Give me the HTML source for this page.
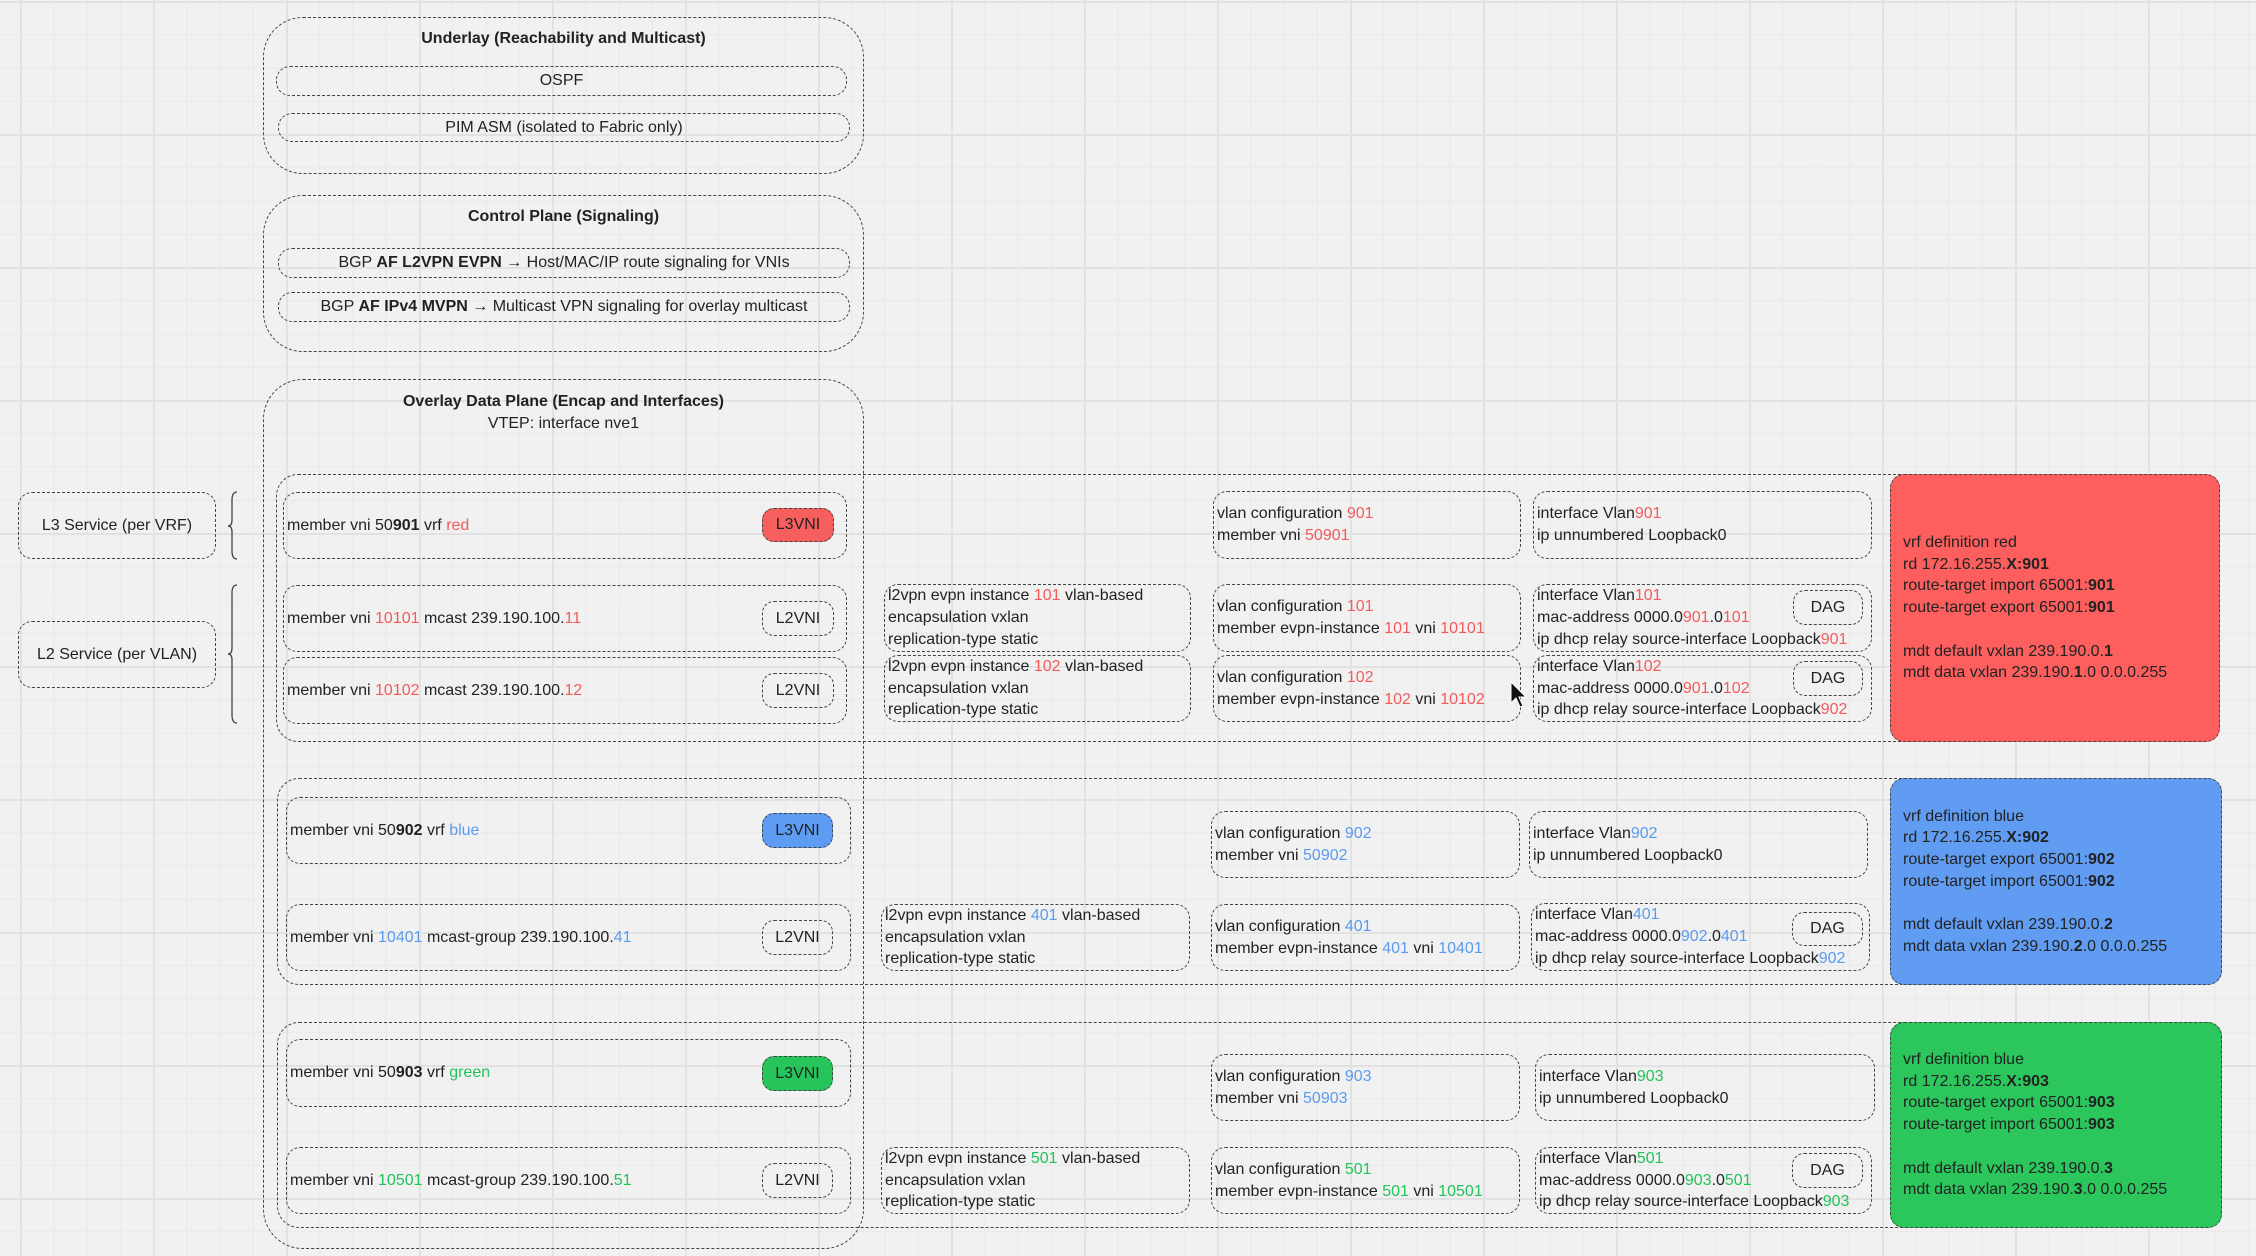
<!DOCTYPE html>
<html><head><meta charset="utf-8"><style>
html,body{margin:0;padding:0}
body{width:2256px;height:1256px;position:relative;overflow:hidden;background-color:#f1f1f1;
background-image:linear-gradient(#e2e2e2 2px,transparent 2px),linear-gradient(90deg,#e2e2e2 2px,transparent 2px),linear-gradient(#e9e9e9 1px,transparent 1px),linear-gradient(90deg,#e9e9e9 1px,transparent 1px);
background-size:133px 133px,133px 133px,33.25px 33.25px,33.25px 33.25px;background-position:0 1px,20px 0,0 1px,20px 0;
font-family:"Liberation Sans",sans-serif;font-size:16px;color:#222}
.b{position:absolute;border:1.3px dashed #444;border-radius:14px;box-sizing:border-box;display:flex;flex-direction:column;justify-content:center;line-height:21.7px;white-space:nowrap;padding-left:3px}
.c{align-items:center;padding-left:0}
.p{position:absolute;border:1.3px dashed #444;border-radius:12px;box-sizing:border-box;display:flex;align-items:center;justify-content:center}
.t{position:absolute;white-space:nowrap;text-align:center}
.r{color:#f45b5b}.u{color:#5a9bf0}.g{color:#22c35a}
b{font-weight:bold}
.grp{position:absolute;border:1.3px dashed #444;border-radius:22px;box-sizing:border-box}
</style></head><body>

<!-- Underlay -->
<div class="grp" style="left:263px;top:17px;width:601px;height:157px;border-radius:40px"></div>
<div class="t" style="left:263px;width:601px;top:30px"><b>Underlay (Reachability and Multicast)</b></div>
<div class="b c" style="left:276px;top:66px;width:571px;height:30px">OSPF</div>
<div class="b c" style="left:278px;top:113px;width:572px;height:29px">PIM ASM (isolated to Fabric only)</div>

<!-- Control -->
<div class="grp" style="left:263px;top:195px;width:601px;height:157px;border-radius:40px"></div>
<div class="t" style="left:263px;width:601px;top:208px"><b>Control Plane (Signaling)</b></div>
<div class="b c" style="left:278px;top:248px;width:572px;height:30px"><span>BGP <b>AF L2VPN EVPN</b> → Host/MAC/IP route signaling for VNIs</span></div>
<div class="b c" style="left:278px;top:292px;width:572px;height:30px"><span>BGP <b>AF IPv4 MVPN</b> → Multicast VPN signaling for overlay multicast</span></div>

<!-- Overlay -->
<div class="grp" style="left:263px;top:379px;width:601px;height:870px;border-radius:40px"></div>
<div class="t" style="left:263px;width:601px;top:393px"><b>Overlay Data Plane (Encap and Interfaces)</b></div>
<div class="t" style="left:263px;width:601px;top:415px">VTEP: interface nve1</div>

<!-- services -->
<div class="b c" style="left:18px;top:492px;width:198px;height:67px">L3 Service (per VRF)</div>
<div class="b c" style="left:18px;top:621px;width:198px;height:67px">L2 Service (per VLAN)</div>
<svg style="position:absolute;left:0;top:0" width="300" height="800">
<path d="M237 492 Q232 492 232 500 L232 520 Q232 526 228 526 Q232 526 232 532 L232 551 Q232 559 237 559" fill="none" stroke="#444" stroke-width="1.3"/>
<path d="M237 585 Q232 585 232 593 L232 648 Q232 654 228 654 Q232 654 232 660 L232 715 Q232 723 237 723" fill="none" stroke="#444" stroke-width="1.3"/>
</svg>

<!-- Group 1 red -->
<div class="grp" style="left:276px;top:474px;width:1944px;height:268px"></div>
<div class="b" style="left:283px;top:492px;width:564px;height:67px"><span>member vni 50<b>901</b> vrf <span class="r">red</span></span></div>
<div class="p" style="left:762px;top:508px;width:72px;height:34px;background:#f75e5e">L3VNI</div>
<div class="b" style="left:283px;top:585px;width:564px;height:67px"><span>member vni <span class="r">10101</span> mcast 239.190.100.<span class="r">11</span></span></div>
<div class="p" style="left:762px;top:601px;width:72px;height:35px">L2VNI</div>
<div class="b" style="left:283px;top:657px;width:564px;height:67px"><span>member vni <span class="r">10102</span> mcast 239.190.100.<span class="r">12</span></span></div>
<div class="p" style="left:762px;top:673px;width:72px;height:35px">L2VNI</div>

<div class="b" style="left:884px;top:584px;width:307px;height:68px"><div>l2vpn evpn instance <span class="r">101</span> vlan-based</div><div>encapsulation vxlan</div><div>replication-type static</div></div>
<div class="b" style="left:884px;top:655px;width:307px;height:67px"><div>l2vpn evpn instance <span class="r">102</span> vlan-based</div><div>encapsulation vxlan</div><div>replication-type static</div></div>

<div class="b" style="left:1213px;top:491px;width:308px;height:68px"><div>vlan configuration <span class="r">901</span></div><div>member vni <span class="r">50901</span></div></div>
<div class="b" style="left:1213px;top:584px;width:308px;height:68px"><div>vlan configuration <span class="r">101</span></div><div>member evpn-instance <span class="r">101</span> vni <span class="r">10101</span></div></div>
<div class="b" style="left:1213px;top:655px;width:308px;height:67px"><div>vlan configuration <span class="r">102</span></div><div>member evpn-instance <span class="r">102</span> vni <span class="r">10102</span></div></div>

<div class="b" style="left:1533px;top:491px;width:339px;height:68px"><div>interface Vlan<span class="r">901</span></div><div>ip unnumbered Loopback0</div></div>
<div class="b" style="left:1533px;top:584px;width:339px;height:68px"><div>interface Vlan<span class="r">101</span></div><div>mac-address 0000.0<span class="r">901</span>.0<span class="r">101</span></div><div>ip dhcp relay source-interface Loopback<span class="r">901</span></div></div>
<div class="p" style="left:1793px;top:590px;width:70px;height:35px">DAG</div>
<div class="b" style="left:1533px;top:655px;width:339px;height:67px"><div>interface Vlan<span class="r">102</span></div><div>mac-address 0000.0<span class="r">901</span>.0<span class="r">102</span></div><div>ip dhcp relay source-interface Loopback<span class="r">902</span></div></div>
<div class="p" style="left:1793px;top:661px;width:70px;height:35px">DAG</div>

<div class="b" style="left:1890px;top:474px;width:330px;height:268px;background:#fd5f5f;padding-left:12px"><div>vrf definition red</div><div>rd 172.16.255.<b>X:901</b></div><div>route-target import 65001:<b>901</b></div><div>route-target export 65001:<b>901</b></div><div>&nbsp;</div><div>mdt default vxlan 239.190.0.<b>1</b></div><div>mdt data vxlan 239.190.<b>1</b>.0 0.0.0.255</div></div>

<!-- Group 2 blue -->
<div class="grp" style="left:277px;top:778px;width:1945px;height:207px"></div>
<div class="b" style="left:286px;top:797px;width:565px;height:67px"><span>member vni 50<b>902</b> vrf <span class="u">blue</span></span></div>
<div class="p" style="left:762px;top:813px;width:71px;height:35px;background:#5d9cf2">L3VNI</div>
<div class="b" style="left:286px;top:904px;width:565px;height:67px"><span>member vni <span class="u">10401</span> mcast-group 239.190.100.<span class="u">41</span></span></div>
<div class="p" style="left:762px;top:920px;width:71px;height:35px">L2VNI</div>
<div class="b" style="left:881px;top:904px;width:309px;height:67px"><div>l2vpn evpn instance <span class="u">401</span> vlan-based</div><div>encapsulation vxlan</div><div>replication-type static</div></div>
<div class="b" style="left:1211px;top:811px;width:309px;height:67px"><div>vlan configuration <span class="u">902</span></div><div>member vni <span class="u">50902</span></div></div>
<div class="b" style="left:1211px;top:904px;width:309px;height:67px"><div>vlan configuration <span class="u">401</span></div><div>member evpn-instance <span class="u">401</span> vni <span class="u">10401</span></div></div>
<div class="b" style="left:1529px;top:811px;width:339px;height:67px"><div>interface Vlan<span class="u">902</span></div><div>ip unnumbered Loopback0</div></div>
<div class="b" style="left:1531px;top:903px;width:339px;height:68px"><div>interface Vlan<span class="u">401</span></div><div>mac-address 0000.0<span class="u">902</span>.0<span class="u">401</span></div><div>ip dhcp relay source-interface Loopback<span class="u">902</span></div></div>
<div class="p" style="left:1792px;top:912px;width:71px;height:34px">DAG</div>
<div class="b" style="left:1890px;top:778px;width:332px;height:207px;background:#609df2;padding-left:12px"><div>vrf definition blue</div><div>rd 172.16.255.<b>X:902</b></div><div>route-target export 65001:<b>902</b></div><div>route-target import 65001:<b>902</b></div><div>&nbsp;</div><div>mdt default vxlan 239.190.0.<b>2</b></div><div>mdt data vxlan 239.190.<b>2</b>.0 0.0.0.255</div></div>

<!-- Group 3 green -->
<div class="grp" style="left:277px;top:1022px;width:1945px;height:206px"></div>
<div class="b" style="left:286px;top:1039px;width:565px;height:68px"><span>member vni 50<b>903</b> vrf <span class="g">green</span></span></div>
<div class="p" style="left:762px;top:1056px;width:71px;height:35px;background:#27c45c">L3VNI</div>
<div class="b" style="left:286px;top:1147px;width:565px;height:67px"><span>member vni <span class="g">10501</span> mcast-group 239.190.100.<span class="g">51</span></span></div>
<div class="p" style="left:762px;top:1163px;width:71px;height:35px">L2VNI</div>
<div class="b" style="left:881px;top:1147px;width:309px;height:67px"><div>l2vpn evpn instance <span class="g">501</span> vlan-based</div><div>encapsulation vxlan</div><div>replication-type static</div></div>
<div class="b" style="left:1211px;top:1054px;width:309px;height:67px"><div>vlan configuration <span class="u">903</span></div><div>member vni <span class="u">50903</span></div></div>
<div class="b" style="left:1211px;top:1147px;width:309px;height:67px"><div>vlan configuration <span class="g">501</span></div><div>member evpn-instance <span class="g">501</span> vni <span class="g">10501</span></div></div>
<div class="b" style="left:1535px;top:1054px;width:340px;height:67px"><div>interface Vlan<span class="g">903</span></div><div>ip unnumbered Loopback0</div></div>
<div class="b" style="left:1535px;top:1147px;width:337px;height:67px"><div>interface Vlan<span class="g">501</span></div><div>mac-address 0000.0<span class="g">903</span>.0<span class="g">501</span></div><div>ip dhcp relay source-interface Loopback<span class="g">903</span></div></div>
<div class="p" style="left:1792px;top:1153px;width:71px;height:35px">DAG</div>
<div class="b" style="left:1890px;top:1022px;width:332px;height:206px;background:#2bc65c;padding-left:12px"><div>vrf definition blue</div><div>rd 172.16.255.<b>X:903</b></div><div>route-target export 65001:<b>903</b></div><div>route-target import 65001:<b>903</b></div><div>&nbsp;</div><div>mdt default vxlan 239.190.0.<b>3</b></div><div>mdt data vxlan 239.190.<b>3</b>.0 0.0.0.255</div></div>

<!-- cursor -->
<svg style="position:absolute;left:1510px;top:681px" width="20" height="30"><path d="M1 1 L1 22 L6 17 L10 26 L13 25 L9 16 L16 16 Z" fill="#111" stroke="#fff" stroke-width="1"/></svg>
</body></html>
